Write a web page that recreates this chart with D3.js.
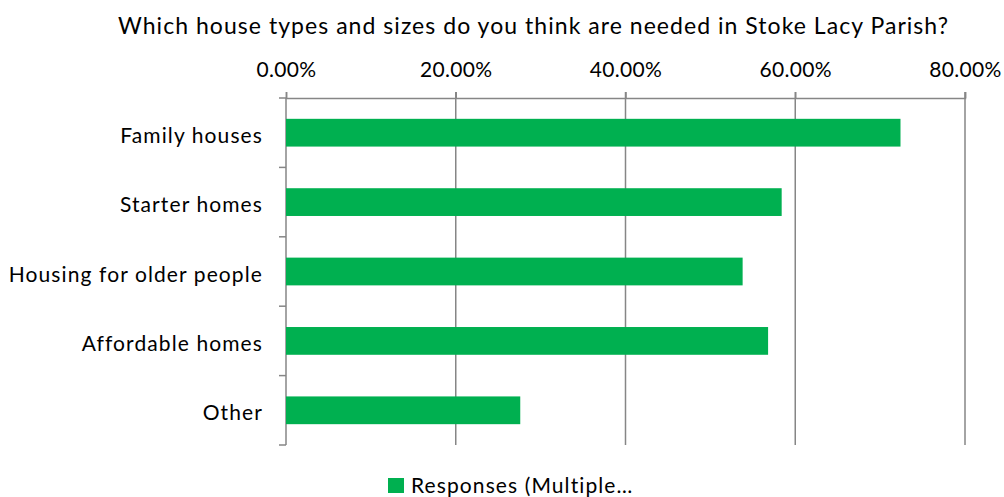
<!DOCTYPE html>
<html><head><meta charset="utf-8">
<script src="https://cdn.jsdelivr.net/npm/d3@7/dist/d3.min.js"></script>
<style>body{margin:0;background:#fff;} text{font-family:Lato,"Open Sans",sans-serif;fill:#000;}</style>
</head><body><svg id="c" width="1004" height="497"></svg>
<script>
const categories = ["Family houses","Starter homes","Housing for older people","Affordable homes","Other"];
const values = [0.724, 0.584, 0.538, 0.568, 0.276];
const tickValues = [0, 0.2, 0.4, 0.6, 0.8];
const seriesName = "Responses (Multiple…";
const title = "Which house types and sizes do you think are needed in Stoke Lacy Parish?";

const svg = d3.select("#c");
const m = {l:286, r:965, t:98, b:445};
const x = d3.scaleLinear().domain([0,0.8]).range([m.l,m.r]);
const y = d3.scaleBand().domain(categories).range([m.t,m.b]).paddingInner(0.6).paddingOuter(0.3);

svg.append("text").attr("x",118).attr("y",34)
  .attr("textLength",830).attr("lengthAdjust","spacing")
  .style("font-size","23px").text(title);

// gridlines
svg.append("g").selectAll("line").data(tickValues.slice(1)).join("line")
  .attr("x1",d=>x(d)).attr("x2",d=>x(d)).attr("y1",m.t-6).attr("y2",m.b)
  .attr("stroke","#868686").attr("stroke-width",1.5);

// top axis
const xa = svg.append("g").attr("transform",`translate(0,${m.t})`)
  .call(d3.axisTop(x).tickValues(tickValues).tickFormat(d3.format(".2%")).tickSize(6).tickPadding(15));
xa.select(".domain").attr("stroke","#868686").attr("stroke-width",1.5);
xa.selectAll(".tick line").attr("stroke","#868686").attr("stroke-width",1.5);
xa.selectAll(".tick text").style("font-size","21px").style("font-family","Lato,sans-serif").attr("fill","#000").attr("dy","0").attr("letter-spacing","0.3px");

// left axis with boundary ticks
const ya = svg.append("g").attr("transform",`translate(${m.l},0)`);
ya.append("line").attr("x1",0).attr("x2",0).attr("y1",m.t).attr("y2",m.b).attr("stroke","#868686").attr("stroke-width",1.5);
const bounds = d3.range(categories.length+1).map(i=>m.t + i*(m.b-m.t)/categories.length);
ya.selectAll("line.t").data(bounds).join("line").attr("class","t")
  .attr("x1",-7).attr("x2",0).attr("y1",d=>d).attr("y2",d=>d).attr("stroke","#868686").attr("stroke-width",1.5);
ya.selectAll("text").data(categories).join("text")
  .attr("x",-23).attr("y",d=>y(d)+y.bandwidth()/2+10)
  .attr("text-anchor","end").style("font-size","21px").attr("letter-spacing","1.1px").text(d=>d);

// bars
svg.append("g").selectAll("rect").data(categories).join("rect")
  .attr("x",x(0)).attr("y",d=>y(d)).attr("width",(d,i)=>x(values[i])-x(0)).attr("height",y.bandwidth())
  .attr("fill","#00B050");

// legend
const lg = svg.append("g");
lg.append("rect").attr("x",388).attr("y",478).attr("width",16).attr("height",15).attr("fill","#00B050");
lg.append("text").attr("x",411).attr("y",493).style("font-size","21px").attr("letter-spacing","1.1px").text(seriesName);
</script></body></html>
